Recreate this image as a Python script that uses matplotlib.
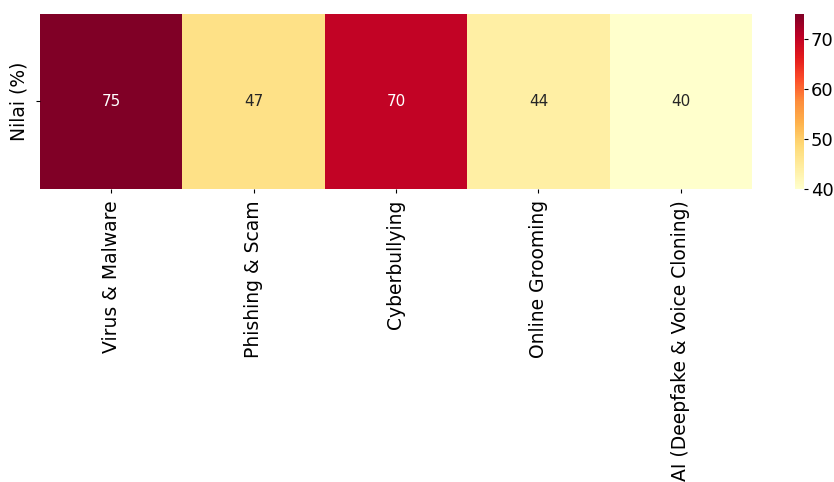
import numpy as np
import pandas as pd
import seaborn as sns
import matplotlib
matplotlib.use("Agg")
import matplotlib.pyplot as plt

categories = ["Virus & Malware", "Phishing & Scam", "Cyberbullying",
              "Online Grooming", "AI (Deepfake & Voice Cloning)"]
values = [75, 47, 70, 44, 40]
row_label = "Nilai (%)"

df = pd.DataFrame([values], columns=categories, index=[row_label])

fig = plt.figure(figsize=(8.34, 4.82), dpi=100)
ax = fig.add_axes([40/834, 1 - 189/482, 712/834, 175/482])
cax = fig.add_axes([795/834, 1 - 189/482, 9/834, 175/482])

sns.heatmap(df, annot=True, fmt="d", cmap="YlOrRd", ax=ax, cbar_ax=cax,
            annot_kws={"fontsize": 11})
ax.set_yticklabels([row_label], rotation=90, va="center", fontsize=13.5)
ax.set_xticklabels(categories, rotation=90, fontsize=13.5)
ax.tick_params(axis="both", length=3, pad=5)
cax.tick_params(labelsize=13, length=3, pad=2)
cax.set_yticks([40, 50, 60, 70])
for s in cax.spines.values():
    s.set_visible(False)

fig.savefig("out.png", dpi=100)
